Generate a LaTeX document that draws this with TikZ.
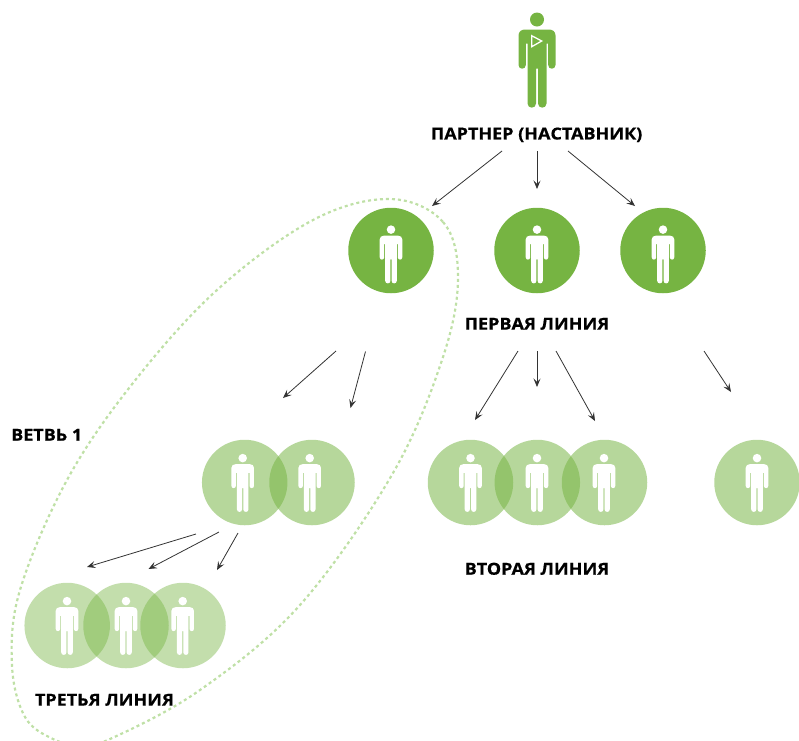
\documentclass[tikz,border=0pt]{standalone}
\usepackage{fontspec}
\setmainfont{Open Sans}[FakeStretch=1.09,BoldFeatures={FakeBold=0.6}]
\usetikzlibrary{arrows.meta}
\definecolor{gr}{HTML}{76B442}
\definecolor{dots}{HTML}{BFE0A6}
\definecolor{ln}{HTML}{333333}
\tikzset{
  firstc/.style={circle,fill=gr,minimum size=85.5pt,inner sep=0pt,draw=none},
  lightc/.style={circle,fill=gr,fill opacity=.53,minimum size=85.5pt,inner sep=0pt,draw=none},
  paler/.style={lightc,fill opacity=.44},
  lab/.style={font=\fontsize{16.5}{18}\selectfont\bfseries,text=black,inner sep=0pt},
  arr/.style={draw=ln,line width=.8pt,-{Stealth[length=8.5pt,width=7pt,inset=3.5pt]}},
  pics/person/.style={code={
    \fill[#1] (0,-40) circle[radius=7];
    \fill[#1] (-18.5,5.5) .. controls (-18.5,10.4) and (-11.2,10.4) .. (-11.2,5.5)
      -- (-11.2,-16) -- (-9.5,-16) -- (-9.5,44)
      .. controls (-9.5,49.5) and (-1,49.5) .. (-1,44) -- (-1,9) -- (1,9) -- (1,44)
      .. controls (1,49.5) and (9.5,49.5) .. (9.5,44) -- (9.5,-16) -- (11.2,-16) -- (11.2,5.5)
      .. controls (11.2,10.4) and (18.5,10.4) .. (18.5,5.5) -- (18.5,-24)
      .. controls (18.5,-28) and (15.5,-30) .. (12,-30) -- (-12,-30)
      .. controls (-15.5,-30) and (-18.5,-28) .. (-18.5,-24) -- cycle;
  }}
}
\begin{document}
\begin{tikzpicture}[x=1pt,y=-1pt]
\useasboundingbox (0,0) rectangle (799,740);
% branch outline
\draw[dots,line width=2.2pt,dash pattern=on 3pt off 3pt]
  plot[smooth cycle,tension=.6] coordinates {(390,199) (443,222) (458,277) (443,357) (393,473) (300,605) (200,690) (110,739) (80,745) (53,739) (25,717) (12,665) (20,590) (67,480) (133,383) (217,290) (313,220)};
% mentor
\pic at (537,59.5) {person=gr};
\coordinate (pa) at (531.7,35.7);\coordinate (pb) at (541.7,41);\coordinate (pc) at (531.7,46.7);
\draw[white,line width=1.3pt,line join=miter] (pa) -- (pb) -- (pc) -- cycle;
\node[lab] (mentor) at (536.6,134.8) {ПАРТНЕР (НАСТАВНИК)};
% first line
\node[firstc] (a1) at (391,250.5) {};
\node[firstc] (a2) at (537,250.5) {};
\node[firstc] (a3) at (663,250.5) {};
\foreach \x/\y in {391/254,537/254,663/254}{\pic[scale=.61] at (\x,\y) {person=white};}
\node[lab] (l1) at (537,323.8) {ПЕРВАЯ ЛИНИЯ};
% second line
\node[lightc] (b1) at (244.7,482.5) {};
\node[lightc] (b2) at (312,482.5) {};
\node[lightc] (c1) at (470.5,482.5) {};
\node[lightc] (c2) at (537.3,482.5) {};
\node[lightc] (c3) at (604.5,482.5) {};
\node[lightc] (c4) at (757,482.5) {};
\foreach \x in {242.7,309.7,470.5,537,604,757}{\pic[scale=.61] at (\x,482.5) {person=white};}
\node[lab] (l2) at (537,568.8) {ВТОРАЯ ЛИНИЯ};
\node[lab,anchor=west] (v) at (11,434.8) {ВЕТВЬ 1};
% third line
\node[paler] (d1) at (67.2,625.5) {};
\node[paler] (d2) at (126,625.5) {};
\node[paler] (d3) at (183,625.5) {};
\foreach \x in {67,126,182.7}{\pic[scale=.61] at (\x,625.5) {person=white};}
\node[lab] (l3) at (104.5,699.8) {ТРЕТЬЯ ЛИНИЯ};
% connector ends
\foreach \n/\x/\y in {s1/502/151,e1/432/206,s2/537/151,e2/537/189,s3/568/151,e3/635/206,
  s4/336/351,e4/283/398,s5/365.5/351.5,e5/350.5/408,
  s6/518/351,e6/475/420,s7/537/351,e7/537/387,s8/556/351,e8/595/421,s9/704/351,e9/731/392,
  s10/196/534,e10/87/567,s11/219/532,e11/148.5/569,s12/238/533,e12/217/570}{
  \coordinate (\n) at (\x,\y);}
\foreach \i in {1,...,12}{\draw[arr] (s\i) -- (e\i);}
\end{tikzpicture}
\end{document}
